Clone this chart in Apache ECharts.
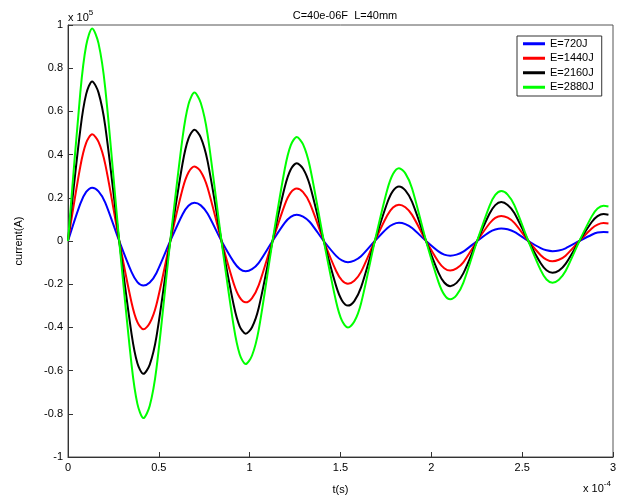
<!DOCTYPE html>
<html><head><meta charset="utf-8">
<script src="https://cdn.jsdelivr.net/npm/echarts@6/dist/echarts.min.js"></script>
<style>html,body{margin:0;padding:0;background:#fff}#c{width:620px;height:496px}</style>
</head><body><div id="c"></div>
<script>
// time (x 1e-4 s)
var t = [0, 0.068, 0.1, 0.133, 0.168, 0.205,
 0.282, 0.35, 0.382, 0.415, 0.45, 0.487,
 0.563, 0.631, 0.663, 0.696, 0.731, 0.768,
 0.845, 0.913, 0.945, 0.978, 1.013, 1.05,
 1.126, 1.194, 1.226, 1.259, 1.294, 1.331,
 1.408, 1.476, 1.508, 1.541, 1.576, 1.613,
 1.689, 1.757, 1.789, 1.822, 1.857, 1.894,
 1.971, 2.039, 2.071, 2.104, 2.139, 2.176,
 2.252, 2.32, 2.352, 2.385, 2.42, 2.457,
 2.534, 2.602, 2.634, 2.667, 2.702, 2.739,
 2.815, 2.883, 2.915, 2.948, 2.975];
// current (x 1e5 A)
var e720 = [0, 0.173, 0.227, 0.247, 0.230, 0.178,
 0, -0.144, -0.190, -0.206, -0.192, -0.148,
 0, 0.124, 0.163, 0.177, 0.165, 0.127,
 0, -0.098, -0.129, -0.140, -0.130, -0.101,
 0, 0.085, 0.112, 0.122, 0.113, 0.088,
 0, -0.069, -0.090, -0.098, -0.091, -0.071,
 0, 0.059, 0.077, 0.084, 0.078, 0.060,
 0, -0.048, -0.063, -0.068, -0.063, -0.049,
 0, 0.041, 0.053, 0.058, 0.054, 0.042,
 0, -0.033, -0.043, -0.047, -0.044, -0.034,
 0, 0.029, 0.039, 0.042, 0.041];
var e1440 = [0, 0.346, 0.454, 0.494, 0.459, 0.356,
 0, -0.286, -0.376, -0.409, -0.380, -0.294,
 0, 0.242, 0.317, 0.345, 0.321, 0.248,
 0, -0.199, -0.261, -0.284, -0.264, -0.204,
 0, 0.170, 0.224, 0.243, 0.226, 0.175,
 0, -0.139, -0.182, -0.198, -0.184, -0.143,
 0, 0.118, 0.155, 0.168, 0.156, 0.121,
 0, -0.096, -0.126, -0.137, -0.127, -0.099,
 0, 0.081, 0.107, 0.116, 0.108, 0.084,
 0, -0.066, -0.086, -0.094, -0.087, -0.068,
 0, 0.058, 0.076, 0.083, 0.081];
var e2160 = [0, 0.517, 0.680, 0.739, 0.687, 0.532,
 0, -0.431, -0.566, -0.615, -0.572, -0.443,
 0, 0.361, 0.474, 0.515, 0.479, 0.371,
 0, -0.300, -0.395, -0.429, -0.399, -0.309,
 0, 0.252, 0.331, 0.360, 0.335, 0.259,
 0, -0.209, -0.275, -0.299, -0.278, -0.215,
 0, 0.176, 0.232, 0.252, 0.234, 0.181,
 0, -0.146, -0.192, -0.209, -0.194, -0.150,
 0, 0.126, 0.166, 0.180, 0.167, 0.130,
 0, -0.103, -0.135, -0.147, -0.137, -0.106,
 0, 0.088, 0.115, 0.125, 0.122];
var e2880 = [0, 0.689, 0.905, 0.984, 0.915, 0.708,
 0, -0.574, -0.754, -0.820, -0.763, -0.590,
 0, 0.481, 0.632, 0.687, 0.639, 0.495,
 0, -0.399, -0.524, -0.570, -0.530, -0.410,
 0, 0.337, 0.443, 0.481, 0.447, 0.346,
 0, -0.281, -0.369, -0.401, -0.373, -0.289,
 0, 0.236, 0.310, 0.337, 0.313, 0.243,
 0, -0.189, -0.248, -0.270, -0.251, -0.194,
 0, 0.162, 0.213, 0.231, 0.215, 0.166,
 0, -0.135, -0.178, -0.193, -0.179, -0.139,
 0, 0.114, 0.150, 0.163, 0.160];
var names = ['E=720J', 'E=1440J', 'E=2160J', 'E=2880J'];
var colors = ['#0000ff', '#ff0000', '#000000', '#00ff00'];
var values = [e720, e1440, e2160, e2880];
var xTicks = ['0', '0.5', '1', '1.5', '2', '2.5', '3'];

function pairs(ys) { return t.map(function (x, i) { return [x, ys[i]]; }); }
var FONT = 'Liberation Sans, Arial, sans-serif';
var chart = echarts.init(document.getElementById('c'), null, {renderer: 'canvas'});
var series = values.map(function (v, i) {
  return {
    name: names[i], type: 'line', data: pairs(v), smooth: 0.3, showSymbol: false,
    symbol: 'none', lineStyle: {color: colors[i], width: 2}, itemStyle: {color: colors[i]},
    animation: false, z: 2 + i
  };
});
chart.setOption({
  animation: false,
  backgroundColor: '#fff',
  title: {text: 'C=40e-06F  L=40mm', left: 340, top: 5, textAlign: 'center',
    textStyle: {fontFamily: FONT, fontSize: 11, fontWeight: 'normal', color: '#000'}},
  legend: {
    data: names, orient: 'vertical', left: 517, top: 36, icon: 'rect',
    itemWidth: 22, itemHeight: 3, itemGap: 1,
    borderColor: '#333', borderWidth: 1, backgroundColor: '#fff',
    padding: [1, 8, 2, 6],
    textStyle: {fontFamily: FONT, fontSize: 11, color: '#000', lineHeight: 13.5}
  },
  grid: {left: 68, right: 7, top: 25, bottom: 39, show: true, borderColor: '#555', borderWidth: 1,
    containLabel: false, outerBoundsMode: 'none'},
  xAxis: {
    type: 'value', min: 0, max: 3, interval: 0.5,
    name: 't(s)', nameLocation: 'middle', nameGap: 27,
    nameTextStyle: {fontFamily: FONT, fontSize: 11, color: '#000'},
    axisLine: {onZero: false, lineStyle: {color: '#333', width: 1}},
    axisTick: {inside: true, length: 5, lineStyle: {color: '#333'}},
    splitLine: {show: false},
    axisLabel: {fontFamily: FONT, fontSize: 11, color: '#000', margin: 5,
      formatter: function (v) { return xTicks[Math.round(v / 0.5)]; }}
  },
  yAxis: {
    type: 'value', min: -1, max: 1, interval: 0.2,
    name: 'current(A)', nameLocation: 'middle', nameGap: 44, nameRotate: 90,
    nameTextStyle: {fontFamily: FONT, fontSize: 11, color: '#000'},
    axisLine: {onZero: false, lineStyle: {color: '#333', width: 1}},
    axisTick: {inside: true, length: 5, lineStyle: {color: '#333'}},
    splitLine: {show: false},
    axisLabel: {fontFamily: FONT, fontSize: 11, color: '#000', margin: 5,
      formatter: function (v) { return String(+v.toFixed(1)); }}
  },
  graphic: [
    {type: 'text', left: 68, top: 9, style: {
      text: '{a|x 10}{s|5}', font: '11px ' + FONT,
      rich: {a: {fontFamily: FONT, fontSize: 11, fill: '#000', verticalAlign: 'bottom'},
             s: {fontFamily: FONT, fontSize: 8, fill: '#000', verticalAlign: 'top', padding: [0, 0, 6, 0]}}}},
    {type: 'text', left: 583, top: 480, style: {
      text: '{a|x 10}{s|-4}', font: '11px ' + FONT,
      rich: {a: {fontFamily: FONT, fontSize: 11, fill: '#000', verticalAlign: 'bottom'},
             s: {fontFamily: FONT, fontSize: 8, fill: '#000', verticalAlign: 'top', padding: [0, 0, 6, 0]}}}}
  ],
  series: series
});
</script></body></html>
